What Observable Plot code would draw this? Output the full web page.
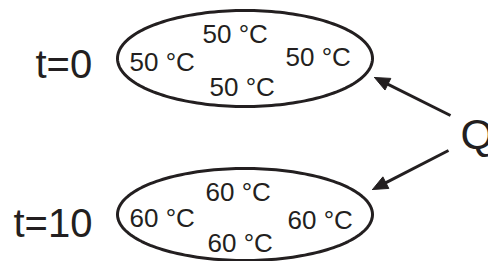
<!DOCTYPE html>
<html>
<head>
<meta charset="utf-8">
<script src="https://cdn.jsdelivr.net/npm/d3@7"></script>
<script src="https://cdn.jsdelivr.net/npm/@observablehq/plot@0.6"></script>
<style>
html,body{margin:0;padding:0;background:#fff;}
svg{display:block;}
</style>
</head>
<body>
<div id="chart"></div>
<script>
// Ellipse regions (states)
const stateNames = ["t=0", "t=10"];
const ellipseCx = [244.5, 244.5];
const ellipseCy = [58, 214];
const ellipseRx = [127.5, 127.5];
const ellipseRy = [48, 46];

// State labels
const stateLabelX = [35, 13];
const stateLabelBaseline = [77, 236];

// Temperature labels inside ellipses
const tempLabels = ["50 °C","50 °C","50 °C","50 °C","60 °C","60 °C","60 °C","60 °C"];
const tempX = [202, 129, 285, 209, 205, 129, 287, 207];
const tempBaseline = [42, 70, 65, 95, 200, 226, 228, 251];

// Heat source label
const heatLabel = ["Q"];
const heatX = [460];
const heatBaseline = [148];

// Arrows from Q to the ellipses
const arrowX1 = [450, 448];
const arrowY1 = [115, 150];
const arrowX2 = [374, 372];
const arrowY2 = [77, 189];

const ink = "#231f20";
const font = "Liberation Sans, Arial, Helvetica, sans-serif";

// Ellipse outlines as parametric paths
const ellipsePts = [];
stateNames.forEach((s, i) => {
  for (let k = 0; k <= 360; k += 2) {
    const a = k * Math.PI / 180;
    ellipsePts.push({id: s, x: ellipseCx[i] + ellipseRx[i] * Math.cos(a), y: ellipseCy[i] + ellipseRy[i] * Math.sin(a)});
  }
});

// Arrow shafts and filled heads
const headLen = 15, headHalf = 6.5;
const shafts = [], heads = [];
arrowX1.forEach((x1, i) => {
  const y1 = arrowY1[i], x2 = arrowX2[i], y2 = arrowY2[i];
  const dx = x2 - x1, dy = y2 - y1, len = Math.hypot(dx, dy);
  const ux = dx / len, uy = dy / len, nx = -uy, ny = ux;
  const bx = x2 - ux * headLen, by = y2 - uy * headLen;
  shafts.push({x1, y1, x2: bx + ux * 2, y2: by + uy * 2});
  heads.push({id: i, x: x2, y: y2});
  heads.push({id: i, x: bx + nx * headHalf, y: by + ny * headHalf});
  heads.push({id: i, x: bx - nx * headHalf, y: by - ny * headHalf});
  heads.push({id: i, x: x2, y: y2});
});

const mid = (b, fs) => b - 0.32 * fs;
const tempData = tempLabels.map((t, i) => ({t, x: tempX[i], y: mid(tempBaseline[i], 26)}));
const stateData = stateNames.map((t, i) => ({t, x: stateLabelX[i], y: mid(stateLabelBaseline[i], 40)}));
const heatData = heatLabel.map((t, i) => ({t, x: heatX[i], y: mid(heatBaseline[i], 43)}));

const chart = Plot.plot({
  width: 488,
  height: 261,
  margin: 0,
  style: {background: "#fff", overflow: "hidden"},
  x: {domain: [0, 488], range: [0, 488], axis: null},
  y: {domain: [0, 261], range: [0, 261], axis: null},
  marks: [
    Plot.line(ellipsePts, {x: "x", y: "y", z: "id", stroke: ink, strokeWidth: 3, curve: "linear"}),
    Plot.link(shafts, {x1: "x1", y1: "y1", x2: "x2", y2: "y2", stroke: ink, strokeWidth: 3}),
    Plot.line(heads, {x: "x", y: "y", z: "id", fill: ink, stroke: ink, strokeWidth: 1}),
    Plot.text(tempData, {x: "x", y: "y", text: "t", textAnchor: "start", fontSize: 26, fontFamily: font, fill: ink}),
    Plot.text(stateData, {x: "x", y: "y", text: "t", textAnchor: "start", fontSize: 40, fontFamily: font, fill: ink}),
    Plot.text(heatData, {x: "x", y: "y", text: "t", textAnchor: "start", fontSize: 43, fontFamily: font, fill: ink})
  ]
});
document.getElementById("chart").append(chart);
</script>
</body>
</html>
